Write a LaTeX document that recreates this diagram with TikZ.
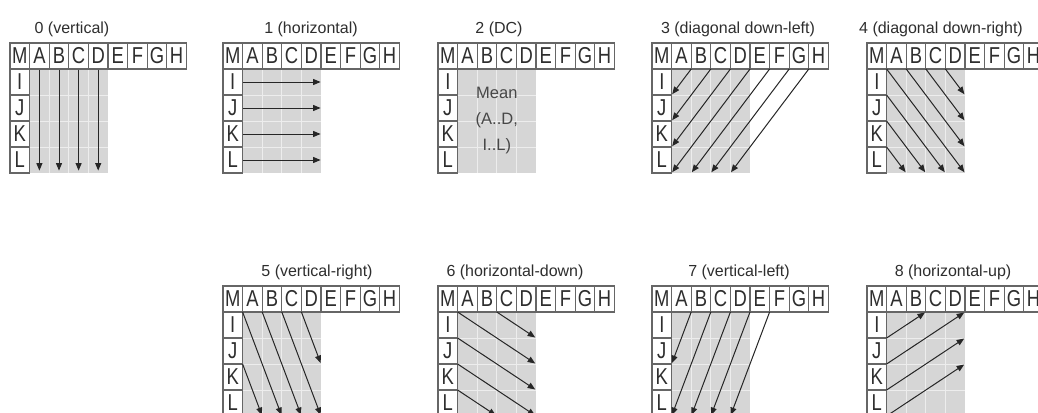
\documentclass[tikz,border=0pt]{standalone}
\usepackage{graphicx}
\usepackage{fontspec}
\setmainfont{Liberation Sans}
\usetikzlibrary{arrows.meta,calc}
\definecolor{cellgray}{rgb}{0.84,0.84,0.84}
\definecolor{gridwhite}{rgb}{0.93,0.93,0.93}
\definecolor{inkgray}{rgb}{0.18,0.18,0.18}
\newcommand\narrowtxt[1]{\scalebox{0.8}[1]{#1}}
\tikzset{
  lblcell/.style ={rectangle, draw=black!60, line width=1.2pt, fill=white,
                   minimum width=19.6pt, minimum height=26pt, inner sep=0pt,
                   text=inkgray, font=\fontsize{23}{23}\selectfont},
  ttl/.style     ={anchor=base, inner sep=0pt, text=inkgray,
                   font=\fontsize{16}{16}\selectfont},
  meantxt/.style ={align=center, inner sep=0pt, text=black!72,
                   font=\fontsize{16.5}{26}\selectfont},
  gridln/.style  ={draw=gridwhite, line width=0.8pt},
  predarrow/.style={-{Triangle[length=7.5pt,width=6pt]}, line width=1pt,
                   draw=black!85, shorten >=1pt},
}
% one 4x4 block with its neighbour samples
% #1 name, #2 x, #3 y, #4 title, #5 title centre
\newcommand\predblock[5]{%
  \begin{scope}[shift={(#2,#3)}]
    \fill[cellgray] (19.6,26) rectangle (98,130);
    \foreach \i in {1,2,3} {
      \draw[gridln] (19.6+19.6*\i,26) -- ++(0,104);
      \draw[gridln] (19.6,26+26*\i) -- ++(78.4,0);
    }
    \foreach \i in {0,...,8}
      \foreach \j in {0,...,4}
        \coordinate (#1-\i-\j) at (19.6+19.6*\i,26+26*\j);
    \foreach \c [count=\k from 0] in {M,A,B,C,D,E,F,G,H}
      \node[lblcell] (#1-\c) at (9.8+19.6*\k,13) {\narrowtxt{\c}};
    \foreach \c [count=\k from 1] in {I,J,K,L}
      \node[lblcell] (#1-\c) at (9.8,13+26*\k) {\narrowtxt{\c}};
    \node[ttl] (#1-title) at (#5,-9.5) {#4};
  \end{scope}}

\begin{document}
\begin{tikzpicture}[x=1pt,y=-1pt]
  \useasboundingbox (0,0) rectangle (1038,412);
  \fill[white] (0,0) rectangle (1038,412);
  \clip (0,0) rectangle (1038,412);

  % top row
  \predblock{p0}{10}{43}{0 (vertical)}{62}
  \predblock{p1}{223}{43}{1 (horizontal)}{88}
  \predblock{p2}{438}{43}{2 (DC)}{61}
  \predblock{p3}{652}{43}{3 (diagonal down-left)}{86}
  \predblock{p4}{867}{43}{4 (diagonal down-right)}{74}
  % bottom row
  \predblock{p5}{223}{286}{5 (vertical-right)}{94}
  \predblock{p6}{438}{286}{6 (horizontal-down)}{77}
  \predblock{p7}{652}{286}{7 (vertical-left)}{87}
  \predblock{p8}{867}{286}{8 (horizontal-up)}{86}

  % 0 vertical
  \foreach \c in {A,B,C,D}
    \draw[predarrow, shorten >=3pt] (p0-\c.south) -- (p0-\c.south |- p0-L.south);
  % 1 horizontal
  \foreach \r in {I,J,K,L}
    \draw[predarrow] (p1-\r.east) -- (p1-\r.east -| p1-D.east);
  % 2 DC
  \node[meantxt] (p2-mean) at ($(p2-0-0)!0.5!(p2-4-4)$) {Mean\\(A..D,\\I..L)};
  % 3 diagonal down-left
  \foreach \a/\b in {1-0/0-1,2-0/0-2,3-0/0-3,4-0/0-4,5-0/1-4,6-0/2-4,7-0/3-4}
    \draw[predarrow] (p3-\a) -- (p3-\b);
  % 4 diagonal down-right
  \foreach \a/\b in {0-0/4-4,1-0/4-3,2-0/4-2,3-0/4-1,0-1/3-4,0-2/2-4,0-3/1-4}
    \draw[predarrow] (p4-\a) -- (p4-\b);
  % 5 vertical-right
  \foreach \a/\b in {0-0/2-4,1-0/3-4,2-0/4-4,3-0/4-2,0-2/1-4}
    \draw[predarrow] (p5-\a) -- (p5-\b);
  % 6 horizontal-down
  \foreach \a/\b in {0-0/4-2,0-1/4-3,0-2/4-4,0-3/2-4,2-0/4-1}
    \draw[predarrow] (p6-\a) -- (p6-\b);
  % 7 vertical-left
  \foreach \a/\b in {1-0/0-2,2-0/0-4,3-0/1-4,4-0/2-4,5-0/3-4}
    \draw[predarrow] (p7-\a) -- (p7-\b);
  % 8 horizontal-up
  \foreach \a/\b in {0-1/2-0,0-2/4-0,0-3/4-1,0-4/4-2}
    \draw[predarrow] (p8-\a) -- (p8-\b);
\end{tikzpicture}
\end{document}
